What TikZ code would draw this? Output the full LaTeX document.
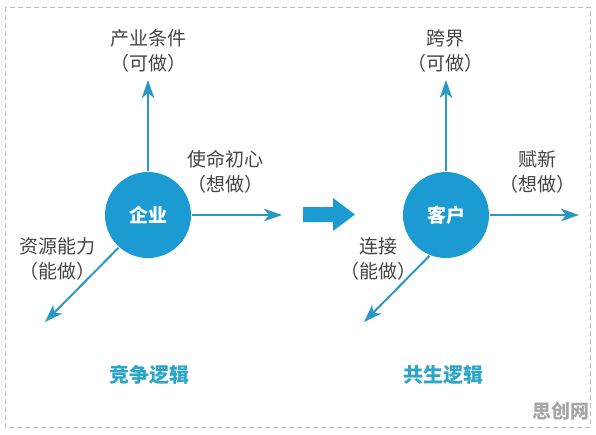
\documentclass[tikz,border=0pt]{standalone}
\usepackage{fontspec}
\setmainfont{Noto Sans CJK SC}
\usepackage{tikz}
\usetikzlibrary{arrows.meta}

\definecolor{hubblue}{RGB}{27,155,210}
\definecolor{linkblue}{RGB}{42,152,198}
\definecolor{titleblue}{RGB}{45,165,200}
\definecolor{labelgray}{RGB}{68,68,68}

\begin{document}
\begin{tikzpicture}[x = 1pt, y = -1pt, line width = 2pt,
                        hub/.style = {circle, fill = hubblue, minimum size = 86pt, inner sep = 0pt,
                                      text = white, font = \fontsize{19}{19}\selectfont\bfseries},
                        tag/.style = {align = center, text = labelgray, font = \fontsize{19}{25}\selectfont},
                        title/.style = {text = titleblue, font = \fontsize{20}{20}\selectfont\bfseries},
                        ray/.style = {draw = linkblue, -{Stealth[length = 18pt, width = 12.5pt, inset = 5pt]}}]
      \useasboundingbox (0, 0) rectangle (596, 434);
      \draw [line width = 1pt, dashed, dash pattern = on 5pt off 3pt, black!25] (5, 7) rectangle (590, 427);

      % competition side
      \node [hub] (ent) at (148, 215){企业};
      \coordinate (entup) at (148, 80);
      \coordinate (entright) at (282, 215);
      \coordinate (entdown) at (45, 322);
      \draw [ray] (ent.north) -- (entup);
      \draw [ray] (ent.east) -- (entright);
      \draw [ray] (ent.228) -- (entdown);
      \node [tag] (entup-t) at (148, 51){产业条件\\（可做）};
      \node [tag] (entright-t) at (225, 172){使命初心\\（想做）};
      \node [tag] (entdown-t) at (57, 259){资源能力\\（能做）};
      \node [title] (ent-t) at (149, 375){竞争逻辑};

      % block arrow
      \fill [hubblue] (303, 207) -- (333, 207) -- (333, 198) -- (355, 214.5)
                      -- (333, 231) -- (333, 222) -- (303, 222) -- cycle;

      % symbiosis side
      \node [hub] (cus) at (446, 215){客户};
      \coordinate (cusup) at (446, 80);
      \coordinate (cusright) at (579, 215);
      \coordinate (cusdown) at (364, 322);
      \draw [ray] (cus.north) -- (cusup);
      \draw [ray] (cus.east) -- (cusright);
      \draw [ray] (cus.248) -- (cusdown);
      \node [tag] (cusup-t) at (445, 51){跨界\\（可做）};
      \node [tag] (cusright-t) at (537, 172){赋新\\（想做）};
      \node [tag] (cusdown-t) at (378, 259){连接\\（能做）};
      \node [title] (cus-t) at (443, 375){共生逻辑};

      \node [text = black!35, font = \fontsize{19}{19}\selectfont\bfseries] (mark) at (561, 411){思创网};
    \end{tikzpicture}
\end{document}
